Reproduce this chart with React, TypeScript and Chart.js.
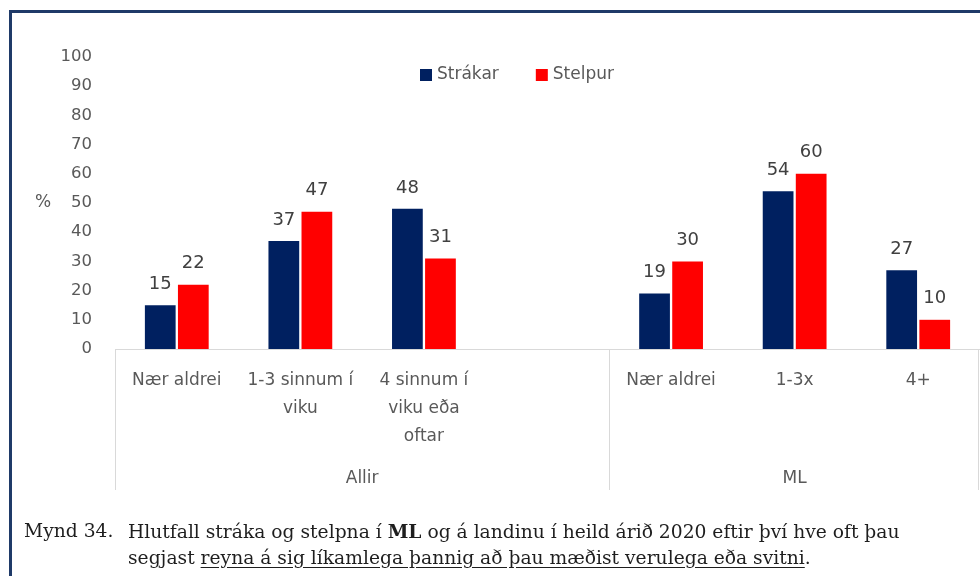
import React, { useEffect, useRef } from 'react';
import { Chart, registerables } from 'chart.js';

Chart.register(...registerables);

// ---- data ----
const categories: (string | string[])[] = [
  'Nær aldrei',
  ['1-3 sinnum í', 'viku'],
  ['4 sinnum í', 'viku eða', 'oftar'],
  '',
  'Nær aldrei',
  '1-3x',
  '4+',
];
const strakar: (number | null)[] = [15, 37, 48, null, 19, 54, 27];
const stelpur: (number | null)[] = [22, 47, 31, null, 30, 60, 10];
const seriesNames = ['Strákar', 'Stelpur'];
const groupNames = ['Allir', 'ML'];
const groupStarts = [0, 4];
const groupEnds = [3, 6];
const yMin = 0;
const yMax = 100;
const yStep = 10;
const yTitle = '%';

const FONT = '"DejaVu Sans", "Open Sans", sans-serif';
const GRAY = '#595959';

const overlayPlugin = {
  id: 'overlay',
  afterDatasetsDraw(chart: any) {
    const { ctx, chartArea, scales } = chart;
    const xs = scales.x;
    const ys = scales.y;
    const cw = xs.getPixelForValue(1) - xs.getPixelForValue(0);
    ctx.save();

    // data labels
    ctx.font = `18px ${FONT}`;
    ctx.fillStyle = '#404040';
    ctx.textAlign = 'center';
    ctx.textBaseline = 'middle';
    chart.data.datasets.forEach((ds: any, di: number) => {
      const meta = chart.getDatasetMeta(di);
      meta.data.forEach((el: any, i: number) => {
        const v = ds.data[i];
        if (v === null || v === undefined) return;
        ctx.fillText(String(v), el.x, el.y - 21);
      });
    });

    // group separators
    const bounds: number[] = groupStarts.map((s) => xs.getPixelForValue(s) - cw / 2);
    bounds.push(xs.getPixelForValue(groupEnds[groupEnds.length - 1]) + cw / 2 - 2);
    ctx.strokeStyle = '#d9d9d9';
    ctx.lineWidth = 1;
    bounds.forEach((bx) => {
      const px = Math.round(bx) + 0.5;
      ctx.beginPath();
      ctx.moveTo(px, chartArea.bottom);
      ctx.lineTo(px, chartArea.bottom + 141);
      ctx.stroke();
    });

    // group labels
    ctx.fillStyle = GRAY;
    ctx.font = `17px ${FONT}`;
    groupNames.forEach((g, gi) => {
      const l = xs.getPixelForValue(groupStarts[gi]) - cw / 2;
      const r = xs.getPixelForValue(groupEnds[gi]) + cw / 2;
      ctx.fillText(g, (l + r) / 2, chartArea.bottom + 130);
    });

    // y title
    ctx.fillText(yTitle, 43, ys.getPixelForValue(50));

    // legend
    ctx.font = `17px ${FONT}`;
    ctx.textAlign = 'left';
    const ly = ys.getPixelForValue(94);
    let lx = 420;
    chart.data.datasets.forEach((ds: any) => {
      ctx.fillStyle = ds.backgroundColor;
      ctx.fillRect(lx, Math.round(ly - 6), 12, 12);
      ctx.fillStyle = GRAY;
      ctx.fillText(ds.label, lx + 17, ly);
      lx += 17 + ctx.measureText(ds.label).width + 37;
    });

    ctx.restore();
  },
};

function ChartCanvas() {
  const ref = useRef<HTMLCanvasElement | null>(null);
  useEffect(() => {
    if (!ref.current) return;
    const chart = new Chart(ref.current, {
      type: 'bar',
      data: {
        labels: categories as any,
        datasets: [
          {
            label: seriesNames[0],
            data: strakar,
            backgroundColor: '#002060',
            categoryPercentage: 0.535,
            barPercentage: 0.93,
          },
          {
            label: seriesNames[1],
            data: stelpur,
            backgroundColor: '#FF0000',
            categoryPercentage: 0.535,
            barPercentage: 0.93,
          },
        ],
      },
      options: {
        animation: false,
        responsive: false,
        devicePixelRatio: 1,
        layout: { padding: { top: 57, left: 0, right: 0, bottom: 0 } },
        plugins: {
          legend: { display: false },
          tooltip: { enabled: false },
        },
        scales: {
          x: {
            grid: { display: false, drawTicks: false },
            border: { display: true, color: '#d9d9d9', width: 1 },
            ticks: {
              color: GRAY,
              font: { family: FONT, size: 17, lineHeight: 1.66 },
              padding: 17,
              maxRotation: 0,
              autoSkip: false,
            },
            afterFit: (s: any) => {
              s.height = 576 - 349;
            },
          },
          y: {
            min: yMin,
            max: yMax,
            grid: { display: false, drawTicks: false },
            border: { display: false },
            ticks: {
              stepSize: yStep,
              color: GRAY,
              font: { family: FONT, size: 16.5 },
              padding: 23,
            },
            afterFit: (s: any) => {
              s.width = 115;
            },
          },
        },
      },
      plugins: [overlayPlugin],
    });
    return () => chart.destroy();
  }, []);
  return (
    <canvas
      ref={ref}
      width={980}
      height={576}
      style={{ position: 'absolute', left: 0, top: 0, width: 980, height: 576 }}
    />
  );
}

export default function App() {
  const cap: React.CSSProperties = {
    position: 'absolute',
    fontFamily: '"DejaVu Serif", serif',
    fontSize: 18.7,
    lineHeight: '26px',
    color: '#1e1e1e',
    whiteSpace: 'nowrap',
  };
  return (
    <div
      style={{
        position: 'absolute',
        left: 0,
        top: 0,
        width: 980,
        height: 576,
        overflow: 'hidden',
        background: '#ffffff',
      }}
    >
      <ChartCanvas />
      <div
        style={{
          position: 'absolute',
          left: 9,
          top: 10,
          width: 1000,
          height: 600,
          borderTop: '3px solid #1F3A68',
          borderLeft: '3px solid #1F3A68',
          boxSizing: 'border-box',
          pointerEvents: 'none',
        }}
      />
      <div style={{ ...cap, left: 24, top: 518 }}>Mynd 34.</div>
      <div style={{ ...cap, left: 128, top: 518 }}>
        Hlutfall stráka og stelpna í <b>ML</b> og á landinu í heild árið 2020 eftir því hve oft þau
        <br />
        segjast{' '}
        <span style={{ textDecoration: 'underline', textUnderlineOffset: 3 }}>
          reyna á sig líkamlega þannig að þau mæðist verulega eða svitni
        </span>
        .
      </div>
    </div>
  );
}
